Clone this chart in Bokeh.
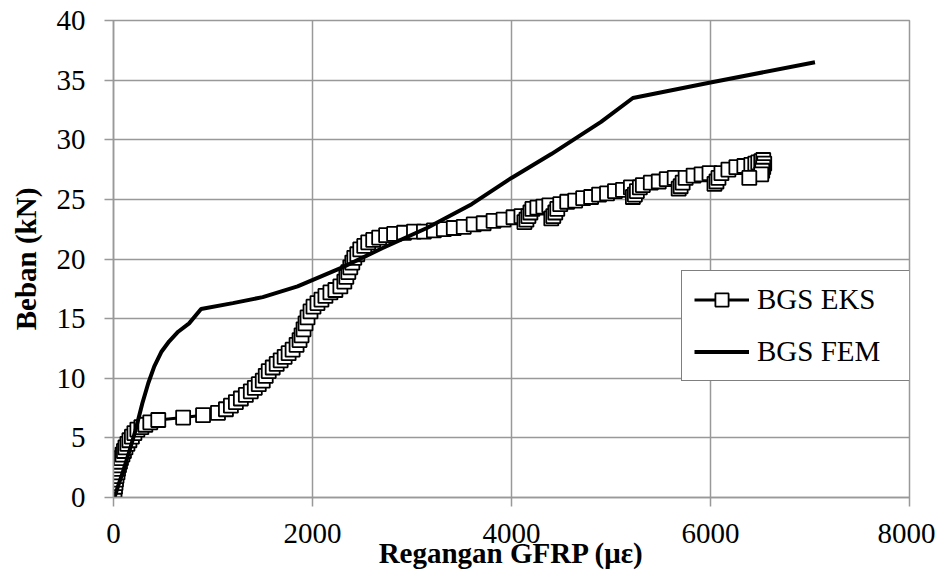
from bokeh.plotting import figure
from bokeh.models import Range1d, FixedTicker, Legend, LegendItem
from bokeh.embed import file_html
from bokeh.resources import INLINE

# ---- data ----
x_ticks = [0, 2000, 4000, 6000, 8000]
y_ticks = [0, 5, 10, 15, 20, 25, 30, 35, 40]

eks_x = [0, 5, 10, 15, 20, 25, 30, 40, 45, 55, 65, 75, 90, 105, 120, 140, 160, 185, 210, 240,
         280, 320, 370, 450, 700, 900, 1050, 1130, 1180, 1230, 1280, 1330, 1380, 1420, 1460, 1500,
         1530, 1560, 1600, 1640, 1680, 1720, 1760, 1800, 1840, 1870, 1890, 1910, 1930, 1950, 1980,
         2010, 2050, 2090, 2130, 2180, 2230, 2280, 2320, 2340, 2360, 2380, 2400, 2420, 2450, 2480,
         2520, 2560, 2610, 2670, 2740, 2820, 2920, 3020, 3120, 3220, 3320, 3420, 3520, 3620, 3720,
         3820, 3920, 4020, 4100, 4130, 4150, 4170, 4190, 4210, 4260, 4320, 4380, 4400, 4420, 4440,
         4460, 4490, 4560, 4640, 4720, 4800, 4880, 4960, 5040, 5120, 5200, 5220, 5240, 5260, 5290,
         5320, 5400, 5480, 5560, 5640, 5680, 5700, 5720, 5750, 5830, 5910, 5990, 6040, 6060, 6080,
         6110, 6180, 6260, 6340, 6410, 6450, 6480, 6510, 6530, 6540, 6530, 6520, 6510, 6390]
eks_y = [0, 0.3, 0.6, 0.9, 1.2, 1.5, 1.8, 2.1, 2.4, 2.7, 3.0, 3.3, 3.6, 3.9, 4.2, 4.5, 4.8, 5.1, 5.4, 5.7,
         5.9, 6.1, 6.3, 6.5, 6.7, 6.9, 7.1, 7.4, 7.7, 8.0, 8.3, 8.6, 8.9, 9.2, 9.5, 9.8,
         10.2, 10.6, 10.9, 11.2, 11.5, 11.8, 12.1, 12.4, 12.8, 13.2, 13.6, 14.1, 14.6, 15.1, 15.6,
         16.0, 16.3, 16.6, 16.9, 17.2, 17.4, 17.7, 18.1, 18.5, 18.9, 19.3, 19.7, 20.1, 20.4, 20.8,
         21.1, 21.4, 21.6, 21.8, 22.0, 22.1, 22.2, 22.3, 22.3, 22.4, 22.5, 22.6, 22.7, 22.9, 23.0,
         23.2, 23.3, 23.5, 23.6, 23.1, 23.3, 23.6, 23.9, 24.2, 24.3, 24.4, 24.5, 23.4, 23.6, 23.9,
         24.2, 24.6, 24.8, 24.9, 25.1, 25.2, 25.4, 25.5, 25.7, 25.8, 26.0, 25.2, 25.4, 25.7, 26.0,
         26.2, 26.4, 26.5, 26.7, 26.8, 25.9, 26.1, 26.4, 26.8, 27.0, 27.1, 27.2, 26.3, 26.5, 26.8,
         27.2, 27.5, 27.7, 27.8, 27.9, 28.0, 28.1, 28.2, 28.3, 28.0, 27.7, 27.4, 27.1, 26.8]

fem_x = [10, 40, 100, 160, 220, 290, 350, 410, 480, 560, 650, 760, 880, 1200, 1500, 1850,
         2300, 2700, 3150, 3600, 4000, 4400, 4900, 5220, 6000, 7050]
fem_y = [0, 0.8, 2.3, 3.9, 5.6, 7.9, 9.6, 11.0, 12.2, 13.1, 13.9, 14.6, 15.8, 16.3, 16.8, 17.7,
         19.3, 20.9, 22.6, 24.6, 26.8, 28.8, 31.5, 33.5, 34.8, 36.5]

FONT = "Liberation Serif"
GRID = "#999999"

p = figure(width=935, height=578, x_range=Range1d(0, 8000), y_range=Range1d(0, 40),
           output_backend="svg", toolbar_location=None,
           min_border_left=113, min_border_right=26, min_border_top=20, min_border_bottom=81)

p.outline_line_color = GRID
p.outline_line_width = 1.5
p.background_fill_color = "white"
p.border_fill_color = "white"

for ax in (p.xaxis[0], p.yaxis[0]):
    ax.axis_line_color = GRID
    ax.axis_line_width = 1.5
    ax.major_tick_line_color = GRID
    ax.major_tick_line_width = 1.5
    ax.major_tick_out = 9
    ax.major_tick_in = 0
    ax.minor_tick_line_color = None
    ax.major_label_text_font = FONT
    ax.major_label_text_font_size = "29px"
    ax.major_label_text_color = "black"
    ax.axis_label_text_font = FONT
    ax.axis_label_text_font_size = "29px"
    ax.axis_label_text_font_style = "bold"
    ax.axis_label_text_color = "black"

p.xaxis.ticker = FixedTicker(ticks=x_ticks)
p.yaxis.ticker = FixedTicker(ticks=y_ticks)
p.xaxis.axis_label = "Regangan GFRP (με)"
p.yaxis.axis_label = "Beban (kN)"
p.xaxis.major_label_standoff = 17
p.xaxis.axis_label_standoff = -9
p.yaxis.major_label_standoff = 19
p.yaxis.axis_label_standoff = 12

for g in (p.xgrid[0], p.ygrid[0]):
    g.grid_line_color = GRID
    g.grid_line_width = 1.5
p.xgrid.ticker = FixedTicker(ticks=x_ticks)
p.ygrid.ticker = FixedTicker(ticks=y_ticks)

eks_line = p.line(eks_x, eks_y, line_color="black", line_width=3)
eks_pts = p.scatter(eks_x, eks_y, marker="square", size=14, fill_color="white",
                    line_color="black", line_width=1.8)
fem_line = p.line(fem_x, fem_y, line_color="black", line_width=4)

legend = Legend(items=[LegendItem(label="BGS EKS", renderers=[eks_line, eks_pts]),
                       LegendItem(label="BGS FEM", renderers=[fem_line])],
                location=(568, 116))
legend.label_text_font = FONT
legend.label_text_font_size = "29px"
legend.label_text_color = "black"
legend.border_line_color = "black"
legend.border_line_width = 1.5
legend.background_fill_alpha = 1.0
legend.padding = 12
legend.spacing = 19
legend.margin = 0
legend.glyph_width = 55
legend.glyph_height = 33
legend.label_height = 33
legend.label_width = 140
legend.label_standoff = 8
p.add_layout(legend, "center")

open("out.html", "w").write(file_html(p, INLINE))
